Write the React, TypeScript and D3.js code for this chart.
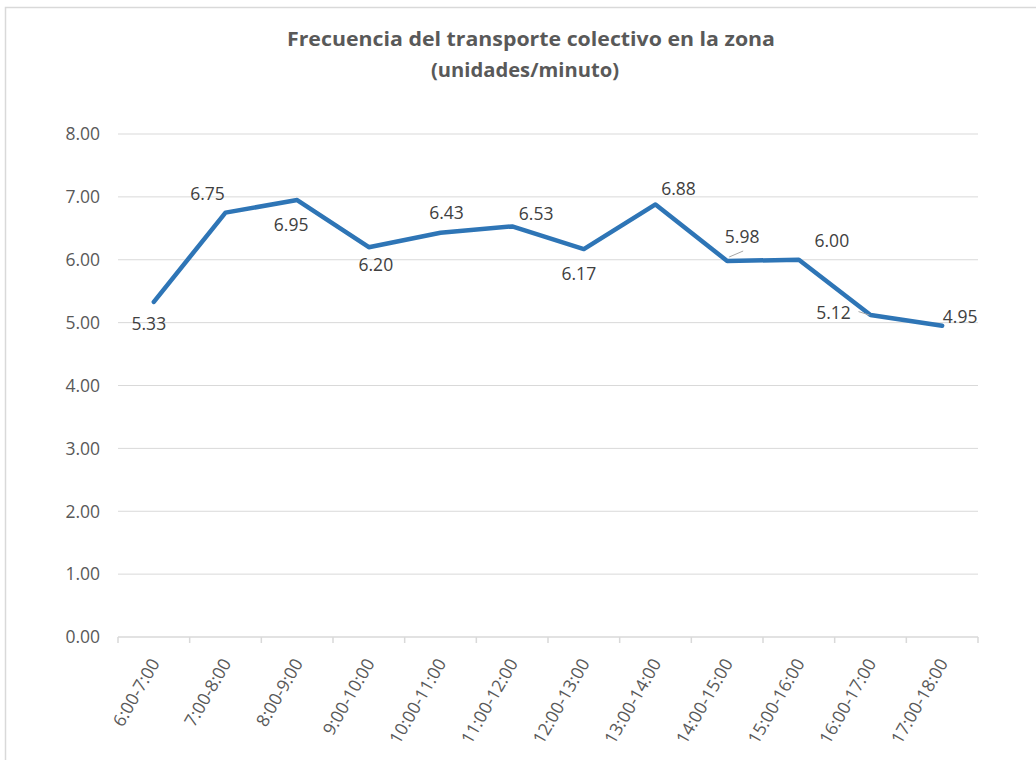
import React from "react";
import * as d3 from "d3";

const categories = [
  "6:00-7:00", "7:00-8:00", "8:00-9:00", "9:00-10:00", "10:00-11:00", "11:00-12:00",
  "12:00-13:00", "13:00-14:00", "14:00-15:00", "15:00-16:00", "16:00-17:00", "17:00-18:00",
];
const values = [5.33, 6.75, 6.95, 6.2, 6.43, 6.53, 6.17, 6.88, 5.98, 6.0, 5.12, 4.95];
const yTicks = [0, 1, 2, 3, 4, 5, 6, 7, 8];
const titleLines = ["Frecuencia del transporte colectivo en la zona", "(unidades/minuto)"];

// label placement relative to each point (dx, dy of baseline-centre)
const labelOffsets: [number, number][] = [
  [-5, 28], [-18, -12.6], [-6, 31], [7, 23.5], [6, -13.7], [24, -6.4],
  [-5, 31], [23, -9.4], [15, -18], [33, -13], [-37, 4], [18, -3],
];
// leader lines: index -> [x1,y1,x2,y2] offsets relative to point
const leaders: Record<number, [number, number, number, number]> = {
  8: [2, -4, 16, -10],
  10: [-12, -3.5, -1, 0],
};

const W = 1036;
const H = 760;
const left = 118;
const right = 978;
const top = 134;
const bottom = 637;

export default function App() {
  const x = d3.scaleBand<string>().domain(categories).range([left, right]).paddingInner(0).paddingOuter(0);
  const y = d3.scaleLinear().domain([0, 8]).range([bottom, top]);
  const cx = (i: number) => (x(categories[i]) as number) + x.bandwidth() / 2;
  const line = d3
    .line<number>()
    .x((_, i) => cx(i))
    .y((v) => y(v));
  const tickXs = categories.map((c) => x(c) as number).concat([right]);
  const labelFont = "'Open Sans', 'Noto Sans', sans-serif";

  return (
    <svg
      width={W}
      height={H}
      style={{ position: "absolute", left: 0, top: 0, background: "#fff" }}
      fontFamily={labelFont}
    >
      <rect x={0} y={0} width={W} height={H} fill="#fff" />
      <rect x={5.5} y={7.5} width={W + 20} height={H + 20} fill="#fff" stroke="#d9d9d9" strokeWidth={1.5} />
      <text
        x={531}
        y={46}
        textAnchor="middle"
        fontSize={20}
        fontWeight="bold"
        fill="#595959"
        textLength={488}
        lengthAdjust="spacingAndGlyphs"
      >
        {titleLines[0]}
      </text>
      <text
        x={525}
        y={77}
        textAnchor="middle"
        fontSize={20}
        fontWeight="bold"
        fill="#595959"
        textLength={188}
        lengthAdjust="spacingAndGlyphs"
      >
        {titleLines[1]}
      </text>
      {yTicks.map((t) => (
        <g key={t}>
          {t > 0 && <line x1={left} x2={right} y1={y(t)} y2={y(t)} stroke="#d9d9d9" strokeWidth={1} />}
          <text x={100} y={y(t)} dy="0.36em" textAnchor="end" fontSize={17.5} fill="#595959">
            {d3.format(".2f")(t)}
          </text>
        </g>
      ))}
      <line x1={left} x2={right} y1={bottom} y2={bottom} stroke="#d9d9d9" strokeWidth={1.5} />
      {tickXs.map((tx, i) => (
        <line key={i} x1={tx} x2={tx} y1={bottom} y2={bottom + 6} stroke="#d9d9d9" strokeWidth={1.5} />
      ))}
      {categories.map((c, i) => (
        <text
          key={c}
          transform={`translate(${cx(i) + 1},${bottom + 23}) rotate(-60)`}
          dy="0.35em"
          textAnchor="end"
          fontSize={17.5}
          fill="#595959"
        >
          {c}
        </text>
      ))}
      <path d={line(values) || ""} fill="none" stroke="#2e75b6" strokeWidth={4.5} strokeLinejoin="round" strokeLinecap="round" />
      {Object.entries(leaders).map(([k, l]) => {
        const i = +k;
        const px = cx(i);
        const py = y(values[i]);
        return <line key={k} x1={px + l[0]} y1={py + l[1]} x2={px + l[2]} y2={py + l[3]} stroke="#a6a6a6" strokeWidth={1} />;
      })}
      {values.map((v, i) => (
        <text
          key={i}
          x={cx(i) + labelOffsets[i][0]}
          y={y(v) + labelOffsets[i][1]}
          textAnchor="middle"
          fontSize={17.5}
          fill="#404040"
        >
          {d3.format(".2f")(v)}
        </text>
      ))}
    </svg>
  );
}
